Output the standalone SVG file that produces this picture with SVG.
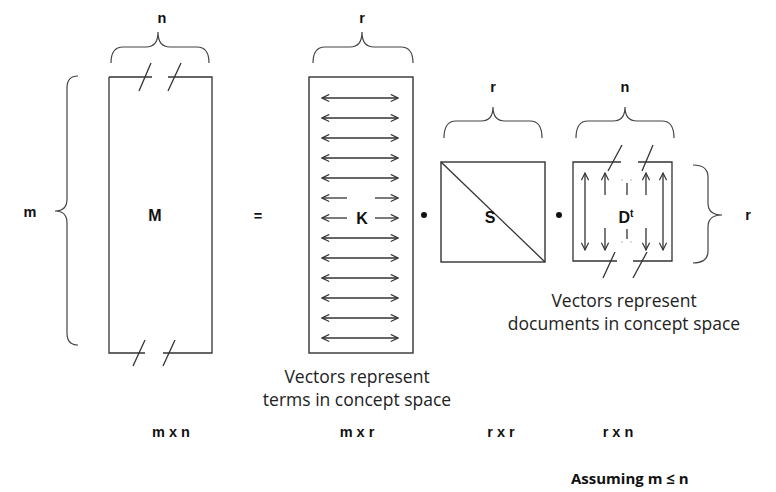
<svg xmlns="http://www.w3.org/2000/svg" width="776" height="492" viewBox="0 0 776 492">
<style>
.bg{fill:#fff}
.box{fill:none;stroke:#333;stroke-width:1.4}
.ln{fill:none;stroke:#333;stroke-width:1.3}
.br{fill:none;stroke:#444;stroke-width:1.2}
.arr{stroke:#333;stroke-width:1.3;marker-start:url(#ah);marker-end:url(#ah)}
.arr1{stroke:#333;stroke-width:1.3;marker-end:url(#ah)}
.lab{font-family:"Liberation Sans",Arial,sans-serif;font-weight:bold;font-size:14.5px;fill:#111;text-anchor:middle}
.big{font-size:16px}
.cap{font-family:"Open Sans","Noto Sans",sans-serif;font-size:17.5px;fill:#222;text-anchor:middle}
.faint{stroke:#bbb;stroke-width:1.2}
</style>
<defs>
<marker id="ah" viewBox="0 0 10 10" refX="9" refY="5" markerWidth="9" markerHeight="9" markerUnits="userSpaceOnUse" orient="auto-start-reverse">
<path d="M1,1 L9,5 L1,9" fill="none" stroke="#333" stroke-width="1.3"/>
</marker>
</defs>
<rect class="bg" x="0" y="0" width="776" height="492"/>

<g id="matrix-M">
<path class="ln" d="M109 77 H152 M168 77 H212 V353 H163 M145 353 H109 V77"/>
<path class="ln" d="M139 91 L151 63 M168 91 L181 63 M133 366 L145 340 M163 366 L175 340"/>
<text class="lab big" x="155" y="221">M</text>
<path class="br" d="M111 63 Q111 47 123 47 L146 47 Q158 47 158 32 Q158 47 170 47 L197 47 Q209 47 209 63"/>
<text class="lab" x="162" y="23">n</text>
<path class="br" d="M78 76 Q67 76 67 88 L67 199 Q67 211 55 211 Q67 211 67 223 L67 333 Q67 345 78 345"/>
<text class="lab" x="30" y="217">m</text>
<text class="lab" x="171" y="437">m x n</text>
</g>

<g id="equals">
<text class="lab" x="258" y="221">=</text>
</g>

<g id="matrix-K">
<rect class="box" x="309" y="77" width="104" height="276"/>
<path class="br" d="M313 63 Q313 47 325 47 L350 47 Q362 47 362 32 Q362 47 374 47 L401 47 Q413 47 413 63"/>
<text class="lab" x="362" y="23">r</text>
<g>
<line class="arr" x1="322" y1="98" x2="398" y2="98"/>
<line class="arr" x1="322" y1="118" x2="398" y2="118"/>
<line class="arr" x1="322" y1="138" x2="398" y2="138"/>
<line class="arr" x1="322" y1="158" x2="398" y2="158"/>
<line class="arr" x1="322" y1="178" x2="398" y2="178"/>
<line class="arr1" x1="347" y1="198" x2="322" y2="198"/>
<line class="arr1" x1="375" y1="198" x2="398" y2="198"/>
<line class="arr1" x1="347" y1="218" x2="322" y2="218"/>
<line class="arr1" x1="375" y1="218" x2="398" y2="218"/>
<line class="arr" x1="322" y1="238" x2="398" y2="238"/>
<line class="arr" x1="322" y1="258" x2="398" y2="258"/>
<line class="arr" x1="322" y1="278" x2="398" y2="278"/>
<line class="arr" x1="322" y1="298" x2="398" y2="298"/>
<line class="arr" x1="322" y1="318" x2="398" y2="318"/>
<line class="arr" x1="322" y1="338" x2="398" y2="338"/>
</g>
<text class="lab big" x="362" y="224">K</text>
<text class="cap" x="357" y="383">Vectors represent</text>
<text class="cap" x="357" y="406">terms in concept space</text>
<text class="lab" x="357" y="437">m x r</text>
</g>

<g id="dot-1"><circle cx="424" cy="215" r="3" fill="#111"/></g>

<g id="matrix-S">
<rect class="box" x="441" y="162" width="104" height="100"/>
<line class="ln" x1="441" y1="162" x2="545" y2="262"/>
<text class="lab big" x="490" y="223">S</text>
<path class="br" d="M444 138 Q444 121 456 121 L481 121 Q493 121 493 107 Q493 121 505 121 L530 121 Q542 121 542 138"/>
<text class="lab" x="493" y="92">r</text>
<text class="lab" x="501" y="437">r x r</text>
</g>

<g id="dot-2"><circle cx="559" cy="215" r="3" fill="#111"/></g>

<g id="matrix-Dt">
<path class="ln" d="M621 162 H573 V261 H617 M633 261 H672 V162 H638"/>
<path class="ln" d="M608 171 L622 145 M642 171 L653 145 M603 278 L615 252 M633 278 L647 252"/>
<line class="arr" x1="585" y1="173" x2="585" y2="250"/>
<line class="arr" x1="663" y1="173" x2="663" y2="250"/>
<line class="arr1" x1="605" y1="195" x2="605" y2="173"/>
<line class="arr1" x1="605" y1="228" x2="605" y2="250"/>
<line class="arr1" x1="646" y1="195" x2="646" y2="173"/>
<line class="arr1" x1="646" y1="228" x2="646" y2="250"/>
<line class="ln" x1="627" y1="183" x2="627" y2="195"/>
<line class="ln" x1="627" y1="229" x2="627" y2="239"/>
<path class="faint" d="M621 180 h2 M630 180 h2 M621 242 h2 M630 242 h2"/>
<text class="lab big" x="626" y="223">D<tspan font-size="10" dy="-6">t</tspan></text>
<path class="br" d="M576 138 Q576 121 588 121 L613 121 Q625 121 625 107 Q625 121 637 121 L662 121 Q674 121 674 138"/>
<text class="lab" x="625" y="92">n</text>
<path class="br" d="M693 165 Q708 165 708 177 L708 203 Q708 215 722 215 Q708 215 708 227 L708 251 Q708 263 693 263"/>
<text class="lab" x="748" y="220">r</text>
<text class="cap" x="624" y="307">Vectors represent</text>
<text class="cap" x="624" y="330">documents in concept space</text>
<text class="lab" x="618" y="437">r x n</text>
</g>

<g id="note">
<text font-family="'Open Sans','Noto Sans',sans-serif" font-weight="bold" font-size="15" fill="#111" x="571" y="484">Assuming m ≤ n</text>
</g>
</svg>
